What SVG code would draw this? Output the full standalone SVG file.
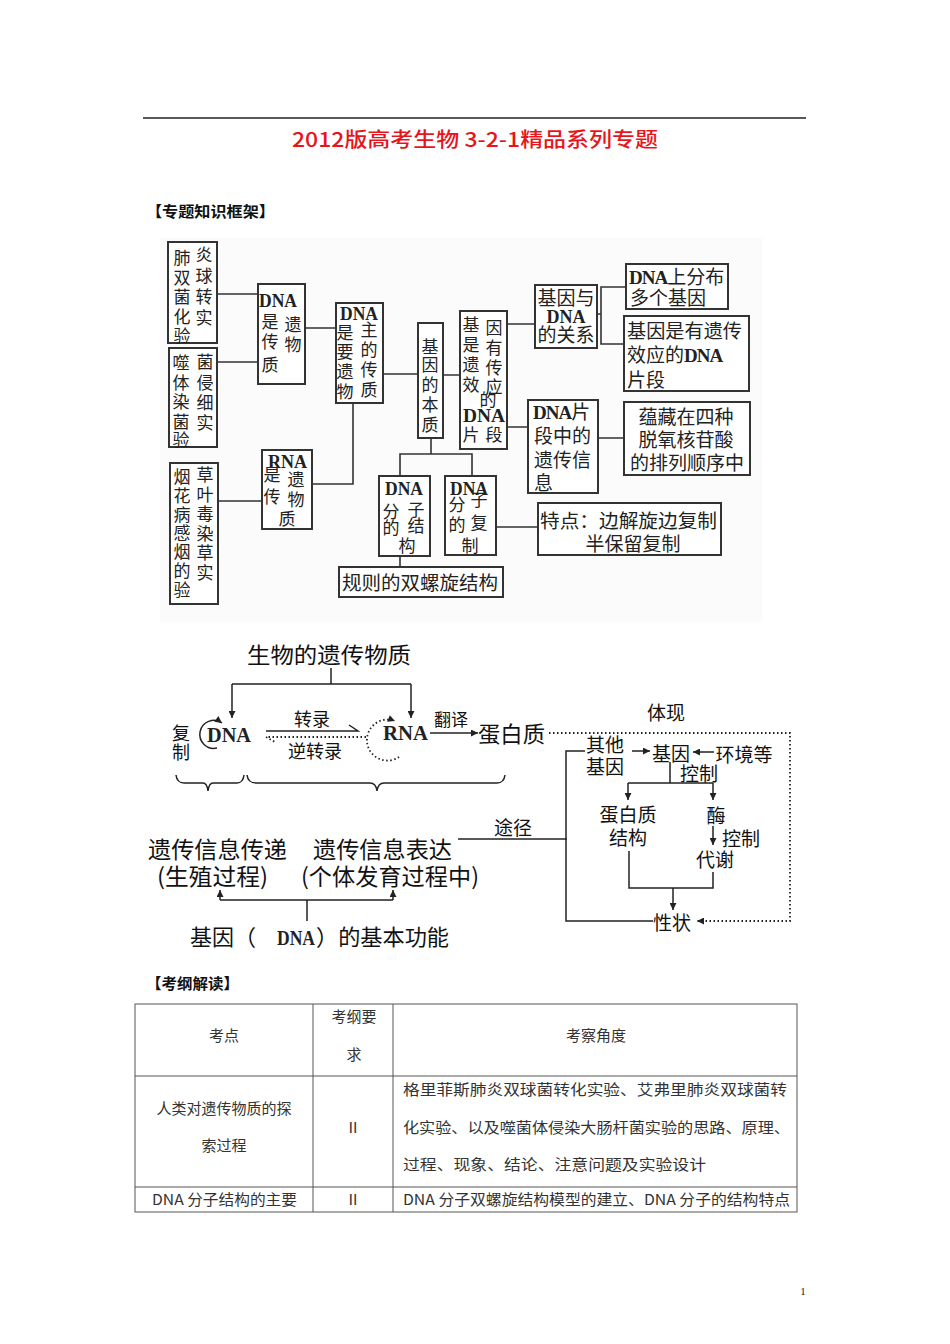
<svg xmlns="http://www.w3.org/2000/svg" width="950" height="1344" viewBox="0 0 950 1344">
<style>
.bx{fill:#fff;stroke:#333;stroke-width:2}
.c{fill:none;stroke:#333;stroke-width:1.6}
.k{fill:none;stroke:#222;stroke-width:1.5}
.d{fill:none;stroke:#222;stroke-width:1.8;stroke-dasharray:1.5 2.5}
.t{font-family:"Noto Sans CJK SC",sans-serif;font-size:17px;fill:#222;text-anchor:middle}
.t19{font-family:"Noto Sans CJK SC",sans-serif;font-size:19px;fill:#222}
.s{font-family:"Liberation Serif","Noto Sans CJK SC",serif;font-weight:bold;fill:#222}
.m{font-family:"Noto Sans CJK SC",sans-serif;fill:#111}
.tb{font-family:"Liberation Serif","Noto Sans CJK SC",serif;font-size:15px;fill:#333}
.tc{font-family:"Noto Sans CJK SC",sans-serif;font-size:15px;fill:#333}
</style>
<defs>
<marker id="ah" viewBox="0 0 10 10" refX="10" refY="5" markerWidth="8" markerHeight="7" orient="auto" markerUnits="userSpaceOnUse"><path d="M0,0 L10,5 L0,10 z" fill="#222"/></marker>
</defs>
<rect width="950" height="1344" fill="#fff"/>
<g id="header">
<line x1="143" y1="118" x2="806" y2="118" stroke="#222" stroke-width="1.3"/>
<text x="292" y="147" font-family="Noto Sans CJK SC,sans-serif" font-size="20" font-weight="500" fill="#e8141b" textLength="366" lengthAdjust="spacingAndGlyphs">2012版高考生物 3-2-1精品系列专题</text>
<text x="146" y="217" font-family="Noto Sans CJK SC,sans-serif" font-size="15" font-weight="bold" fill="#111" textLength="129" lengthAdjust="spacingAndGlyphs">【专题知识框架】</text>
</g>
<rect x="160" y="238" width="602" height="384" fill="#fbfbfb"/>
<g id="connectors1">
<path class="c" d="M217 294 H258 M217 362 H258 M218 501 H262 M305 328 H336 M383 374 H418 M353 403 V484 H312 M443 375 H460 M507 324 H535 M507 427 H528 M431 438 V454 M400 476 V454 H472 V476 M400 556 V567 M496 527 H538 M597 314 H601 M626 287 H601 V344 H624 M598 438 H624"/>
</g>
<g id="n1"><rect class="bx" x="168" y="242" width="49" height="101"/>
<text class="t"><tspan x="182" y="264">肺</tspan><tspan x="182" y="283.5">双</tspan><tspan x="182" y="303">菌</tspan><tspan x="182" y="322.5">化</tspan><tspan x="182" y="342">验</tspan></text>
<text class="t"><tspan x="204" y="261">炎</tspan><tspan x="204" y="282">球</tspan><tspan x="204" y="303">转</tspan><tspan x="204" y="324">实</tspan></text></g>
<g id="n2"><rect class="bx" x="169" y="348" width="48" height="99"/>
<text class="t"><tspan x="181" y="369">噬</tspan><tspan x="181" y="389">体</tspan><tspan x="181" y="408">染</tspan><tspan x="181" y="428">菌</tspan><tspan x="181" y="446">验</tspan></text>
<text class="t"><tspan x="205" y="368">菌</tspan><tspan x="205" y="388.5">侵</tspan><tspan x="205" y="409">细</tspan><tspan x="205" y="429">实</tspan></text></g>
<g id="n3"><rect class="bx" x="170" y="463" width="48" height="141"/>
<text class="t"><tspan x="182" y="483">烟</tspan><tspan x="182" y="502">花</tspan><tspan x="182" y="520.5">病</tspan><tspan x="182" y="539">感</tspan><tspan x="182" y="558">烟</tspan><tspan x="182" y="577">的</tspan><tspan x="182" y="596">验</tspan></text>
<text class="t"><tspan x="205" y="481">草</tspan><tspan x="205" y="500.5">叶</tspan><tspan x="205" y="520">毒</tspan><tspan x="205" y="539.5">染</tspan><tspan x="205" y="559">草</tspan><tspan x="205" y="578.5">实</tspan></text></g>
<g id="n4"><rect class="bx" x="258" y="284" width="47" height="100"/>
<text class="s" x="259" y="307" font-size="18" textLength="38" lengthAdjust="spacingAndGlyphs">DNA</text>
<text class="t"><tspan x="270" y="328">是</tspan><tspan x="270" y="348">传</tspan><tspan x="270" y="371">质</tspan></text>
<text class="t"><tspan x="293" y="331">遗</tspan><tspan x="293" y="351">物</tspan></text></g>
<g id="n5"><rect class="bx" x="336" y="303" width="47" height="100"/>
<text class="s" x="340" y="320" font-size="18" textLength="38" lengthAdjust="spacingAndGlyphs">DNA</text>
<text class="t"><tspan x="345" y="339">是</tspan><tspan x="345" y="358">要</tspan><tspan x="345" y="378">遗</tspan><tspan x="345" y="398">物</tspan></text>
<text class="t"><tspan x="369" y="336">主</tspan><tspan x="369" y="356">的</tspan><tspan x="369" y="376">传</tspan><tspan x="369" y="396">质</tspan></text></g>
<g id="n6"><rect class="bx" x="262" y="450" width="50" height="79"/>
<text class="s" x="268" y="468" font-size="18" textLength="39" lengthAdjust="spacingAndGlyphs">RNA</text>
<text class="t"><tspan x="272" y="481">是</tspan><tspan x="272" y="503">传</tspan><tspan x="287" y="525">质</tspan></text>
<text class="t"><tspan x="296" y="486">遗</tspan><tspan x="296" y="506">物</tspan></text></g>
<g id="n7"><rect class="bx" x="418" y="323" width="25" height="115"/>
<text class="t"><tspan x="430" y="353">基</tspan><tspan x="430" y="371">因</tspan><tspan x="430" y="391">的</tspan><tspan x="430" y="411">本</tspan><tspan x="430" y="431">质</tspan></text></g>
<g id="n8"><rect class="bx" x="460" y="311" width="47" height="138"/>
<text class="t"><tspan x="471" y="331">基</tspan><tspan x="471" y="351">是</tspan><tspan x="471" y="371">遗</tspan><tspan x="471" y="391">效</tspan><tspan x="471" y="441">片</tspan></text>
<text class="t"><tspan x="494" y="334">因</tspan><tspan x="494" y="354">有</tspan><tspan x="494" y="374">传</tspan><tspan x="494" y="393">应</tspan><tspan x="488" y="406">的</tspan><tspan x="494" y="441">段</tspan></text>
<text class="s" x="463" y="422" font-size="18" textLength="42" lengthAdjust="spacingAndGlyphs">DNA</text></g>
<g id="n9"><rect class="bx" x="535" y="285" width="62" height="63"/>
<text class="t19" text-anchor="middle"><tspan x="566" y="305">基因与</tspan><tspan x="566" y="342">的关系</tspan></text>
<text class="s" x="566" y="323" font-size="18" text-anchor="middle">DNA</text></g>
<g id="n10"><rect class="bx" x="626" y="264" width="102" height="45"/>
<text class="t19" x="629" y="284"><tspan class="s" font-size="19" letter-spacing="-1">DNA</tspan>上分布</text>
<text class="t19" x="630" y="305">多个基因</text></g>
<g id="n11"><rect class="bx" x="624" y="316" width="125" height="75"/>
<text class="t19" x="627" y="338" textLength="115" lengthAdjust="spacingAndGlyphs">基因是有遗传</text>
<text class="t19" x="627" y="362">效应的<tspan class="s" font-size="19" letter-spacing="-1">DNA</tspan></text>
<text class="t19" x="627" y="387">片段</text></g>
<g id="n12"><rect class="bx" x="528" y="400" width="70" height="93"/>
<text class="t19" x="533" y="419"><tspan class="s" font-size="19" letter-spacing="-1">DNA</tspan>片</text>
<text class="t19" x="534" y="443">段中的</text>
<text class="t19" x="534" y="467">遗传信</text>
<text class="t19" x="534" y="490">息</text></g>
<g id="n13"><rect class="bx" x="624" y="402" width="126" height="73"/>
<text class="t19" text-anchor="middle" font-size="20"><tspan x="686" y="424">蕴藏在四种</tspan><tspan x="686" y="447">脱氧核苷酸</tspan><tspan x="687" y="470">的排列顺序中</tspan></text></g>
<g id="n14"><rect class="bx" x="379" y="476" width="51" height="80"/>
<text class="s" x="385" y="495" font-size="18" textLength="38" lengthAdjust="spacingAndGlyphs">DNA</text>
<text class="t"><tspan x="391" y="518">分</tspan><tspan x="416" y="516">子</tspan><tspan x="391" y="534">的</tspan><tspan x="416" y="532">结</tspan><tspan x="407" y="552">构</tspan></text></g>
<g id="n15"><rect class="bx" x="445" y="476" width="51" height="79"/>
<text class="s" x="450" y="495" font-size="18" textLength="38" lengthAdjust="spacingAndGlyphs">DNA</text>
<text class="t"><tspan x="457" y="511">分</tspan><tspan x="479" y="506">子</tspan><tspan x="457" y="531">的</tspan><tspan x="479" y="529">复</tspan><tspan x="470" y="552">制</tspan></text></g>
<g id="n16"><rect class="bx" x="339" y="567" width="164" height="30"/>
<text class="t19" x="342" y="590" textLength="156" lengthAdjust="spacingAndGlyphs">规则的双螺旋结构</text></g>
<g id="n17"><rect class="bx" x="538" y="503" width="183" height="52"/>
<text class="t19" x="540" y="528" textLength="177" lengthAdjust="spacingAndGlyphs">特点：边解旋边复制</text>
<text class="t19" x="633" y="551" text-anchor="middle">半保留复制</text></g>

<g id="connectors2">
<path class="k" d="M331 668 V684 M232 684 H411"/>
<path class="k" d="M232 684 V718" marker-end="url(#ah)"/>
<path class="k" d="M411 684 V718" marker-end="url(#ah)"/>
<path class="k" d="M217 748 A14 14 0 1 1 222 723" marker-end="url(#ah)"/>
<path class="k" d="M266 731 H358 L349 725"/>
<path class="d" d="M366 737 H266 L275 742"/>
<path class="d" d="M399 757 A20.5 20.5 0 1 1 395 721" marker-end="url(#ah)"/>
<path class="k" d="M430 733 H478" marker-end="url(#ah)"/>
<path class="d" d="M549 733 H790 V921 H697" marker-end="url(#ah)"/>
<path class="k" d="M632 751 H650" marker-end="url(#ah)"/>
<path class="k" d="M714 752 H693" marker-end="url(#ah)"/>
<path class="k" d="M670 762 V783 M628 783 H713"/>
<path class="k" d="M628 783 V800" marker-end="url(#ah)"/>
<path class="k" d="M713 783 V800" marker-end="url(#ah)"/>
<path class="k" d="M713 826 V845" marker-end="url(#ah)"/>
<path class="k" d="M629 851 V888 H713 V872"/>
<path class="k" d="M673 888 V910" marker-end="url(#ah)"/>
<path class="k" d="M585 751 H566 V921 H653"/>
<path class="k" d="M458 839 H567"/>
<path class="k" d="M220 900 H393 M307 900 V921"/>
<path class="k" d="M220 900 V890" marker-end="url(#ah)"/>
<path class="k" d="M393 900 V890" marker-end="url(#ah)"/>
<path class="k" d="M176 775 Q177 783 184 783 H203 Q207 783 208 791 Q209 783 213 783 H237 Q243 783 244 775"/>
<path class="k" d="M247 775 Q248 783 256 783 H370 Q376 783 377 791 Q378 783 384 783 H497 Q504 783 505 775"/>
</g>
<g id="m-top"><text class="m" x="247" y="663" font-size="22" textLength="164" lengthAdjust="spacingAndGlyphs">生物的遗传物质</text></g>
<g id="m-copy"><text class="m" font-size="18" text-anchor="middle"><tspan x="181" y="740">复</tspan><tspan x="181" y="759">制</tspan></text></g>
<g id="m-dna"><text class="s" x="207" y="742" font-size="21" font-weight="normal" textLength="44" lengthAdjust="spacingAndGlyphs">DNA</text></g>
<g id="m-zl"><text class="m" x="312" y="726" font-size="18" text-anchor="middle">转录</text></g>
<g id="m-nzl"><text class="m" x="315" y="758" font-size="18" text-anchor="middle">逆转录</text></g>
<g id="m-rna"><text class="s" x="383" y="740" font-size="21" font-weight="normal" textLength="45" lengthAdjust="spacingAndGlyphs">RNA</text></g>
<g id="m-fy"><text class="m" x="451" y="726" font-size="17" text-anchor="middle">翻译</text></g>
<g id="m-prot"><text class="m" x="478" y="742" font-size="22" textLength="67" lengthAdjust="spacingAndGlyphs">蛋白质</text></g>
<g id="m-tx"><text class="m" x="666" y="720" font-size="19" text-anchor="middle">体现</text></g>
<g id="m-other"><text class="m" font-size="19" text-anchor="middle"><tspan x="605" y="752">其他</tspan><tspan x="605" y="774">基因</tspan></text></g>
<g id="m-gene"><text class="m" x="671" y="761" font-size="19" text-anchor="middle">基因</text></g>
<g id="m-env"><text class="m" x="744" y="762" font-size="19" text-anchor="middle">环境等</text></g>
<g id="m-ctrl1"><text class="m" x="699" y="781" font-size="19" text-anchor="middle">控制</text></g>
<g id="m-struct"><text class="m" font-size="19" text-anchor="middle"><tspan x="628" y="822">蛋白质</tspan><tspan x="628" y="845">结构</tspan></text></g>
<g id="m-enz"><text class="m" x="716" y="823" font-size="19" text-anchor="middle">酶</text></g>
<g id="m-ctrl2"><text class="m" x="741" y="846" font-size="19" text-anchor="middle">控制</text></g>
<g id="m-meta"><text class="m" x="715" y="867" font-size="19" text-anchor="middle">代谢</text></g>
<g id="m-trait"><text class="m" x="672" y="930" font-size="19" text-anchor="middle">性状</text></g>
<g id="m-path"><text class="m" x="513" y="835" font-size="19" text-anchor="middle">途径</text></g>
<g id="m-pass"><text class="m" x="148" y="858" font-size="23" textLength="139" lengthAdjust="spacingAndGlyphs">遗传信息传递</text>
<text class="m" x="157" y="885" font-size="23" textLength="111" lengthAdjust="spacingAndGlyphs">(生殖过程)</text></g>
<g id="m-expr"><text class="m" x="313" y="858" font-size="23" textLength="139" lengthAdjust="spacingAndGlyphs">遗传信息表达</text>
<text class="m" x="301" y="885" font-size="23" textLength="178" lengthAdjust="spacingAndGlyphs">(个体发育过程中)</text></g>
<g id="m-func"><text class="m" x="190" y="945" font-size="22">基因（</text>
<text class="s" x="277" y="945" font-size="22" textLength="38" lengthAdjust="spacingAndGlyphs">DNA</text>
<text class="m" x="316" y="945" font-size="22" textLength="133" lengthAdjust="spacingAndGlyphs">）的基本功能</text></g>

<g id="table">
<text x="146" y="989" font-family="Noto Sans CJK SC,sans-serif" font-size="15" font-weight="bold" fill="#111" textLength="93" lengthAdjust="spacingAndGlyphs">【考纲解读】</text>
<rect x="135" y="1004" width="662" height="208" fill="none" stroke="#555" stroke-width="1"/>
<path d="M313 1004 V1212 M393 1004 V1212 M135 1076 H797 M135 1187 H797" stroke="#555" stroke-width="1" fill="none"/>
<text class="tc" x="224" y="1041" text-anchor="middle">考点</text>
<text class="tc" x="354" y="1022" text-anchor="middle">考纲要</text>
<text class="tc" x="354" y="1060" text-anchor="middle">求</text>
<text class="tc" x="596" y="1041" text-anchor="middle">考察角度</text>
<text class="tc" x="224" y="1114" text-anchor="middle">人类对遗传物质的探</text>
<text class="tc" x="224" y="1151" text-anchor="middle">索过程</text>
<text class="tb" x="353" y="1133" text-anchor="middle">Ⅱ</text>
<text class="tc" x="403" y="1095" textLength="384" lengthAdjust="spacingAndGlyphs">格里菲斯肺炎双球菌转化实验、艾弗里肺炎双球菌转</text>
<text class="tc" x="403" y="1133" textLength="387" lengthAdjust="spacingAndGlyphs">化实验、以及噬菌体侵染大肠杆菌实验的思路、原理、</text>
<text class="tc" x="403" y="1170" textLength="303" lengthAdjust="spacingAndGlyphs">过程、现象、结论、注意问题及实验设计</text>
<text class="tc" x="152" y="1205" textLength="145" lengthAdjust="spacingAndGlyphs">DNA 分子结构的主要</text>
<text class="tb" x="353" y="1205" text-anchor="middle">Ⅱ</text>
<text class="tc" x="403" y="1205" textLength="387" lengthAdjust="spacingAndGlyphs">DNA 分子双螺旋结构模型的建立、DNA 分子的结构特点</text>
</g>
<text x="803" y="1295" font-family="Liberation Serif,serif" font-size="11" fill="#222" text-anchor="middle">1</text>
</svg>
